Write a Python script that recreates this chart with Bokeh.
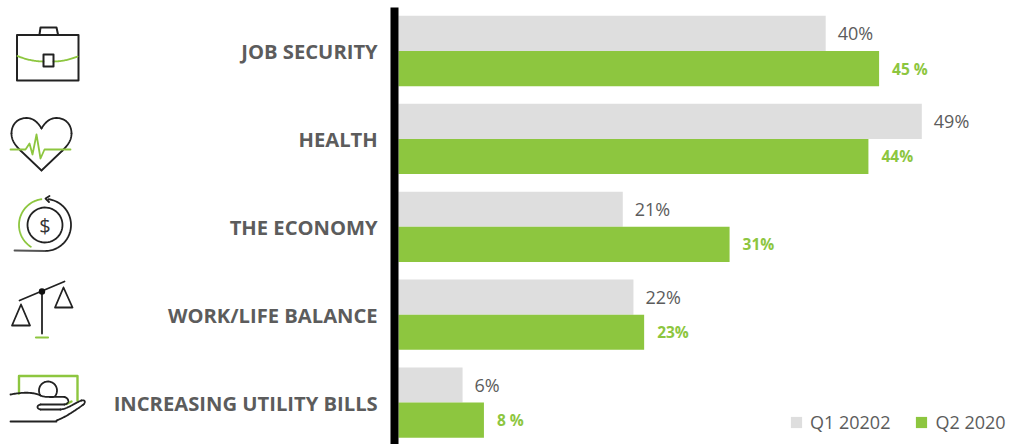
import numpy as np
from bokeh.embed import file_html
from bokeh.resources import INLINE
from bokeh.plotting import figure
from bokeh.models import Range1d, Legend, LegendItem
from bokeh.core.properties import value

categories = ["JOB SECURITY", "HEALTH", "THE ECONOMY", "WORK/LIFE BALANCE", "INCREASING UTILITY BILLS"]
q1_values = [40, 49, 21, 22, 6]
q2_values = [45, 44, 31, 23, 8]
q1_labels = ["40%", "49%", "21%", "22%", "6%"]
q2_labels = ["45 %", "44%", "31%", "23%", "8 %"]
series_names = ["Q1 20202", "Q2 2020"]

GREY = "#DEDEDE"
GREEN = "#8DC63F"
TEXT = "#5C5C5C"
FONT = "Open Sans"

W, H = 1010, 444
PX_PER_PCT = 10.68
ZERO_PX = 398
ROW_PX = 87.9
FIRST_ROW_PX = 50.5

p = figure(width=W, height=H, output_backend="svg", toolbar_location=None,
           x_range=Range1d(-ZERO_PX / PX_PER_PCT, (W - ZERO_PX) / PX_PER_PCT),
           y_range=Range1d((H - FIRST_ROW_PX) / ROW_PX, -FIRST_ROW_PX / ROW_PX),
           min_border=0, outline_line_color=None, background_fill_color="white")
p.xaxis.visible = False
p.yaxis.visible = False
p.grid.visible = False

# Pixel-based ranges for the pictograms and the row captions.
p.extra_x_ranges["px"] = Range1d(0, W)
p.extra_y_ranges["px"] = Range1d(H, 0)
PX = dict(x_range_name="px", y_range_name="px")

rows = np.arange(len(categories))
BAR = 0.4
q1_bars = p.hbar(y=rows - BAR / 2, left=0, right=q1_values, height=BAR, fill_color=GREY, line_color=None)
q2_bars = p.hbar(y=rows + BAR / 2, left=0, right=q2_values, height=BAR, fill_color=GREEN, line_color=None)

p.text(x=q1_values, y=rows - BAR / 2, text=q1_labels, x_offset=12, text_baseline="middle",
       text_font=value(FONT), text_font_size="18px", text_color=TEXT)
p.text(x=q2_values, y=rows + BAR / 2, text=q2_labels, x_offset=13, text_baseline="middle",
       text_font=value(FONT), text_font_size="15.5px", text_font_style="bold", text_color=GREEN)

p.text(x=[-1.95] * len(categories), y=rows, text=categories, text_align="right", text_baseline="middle",
       text_font=value(FONT), text_font_size="20.2px", text_font_style="bold", text_color=TEXT)

# Heavy vertical baseline to the left of the bars.
p.segment(x0=[394], y0=[7], x1=[394], y1=[444], line_color="black", line_width=8, **PX)


def path(xs, ys, color="#222222", width=1.8):
    p.line(xs, ys, line_color=color, line_width=width, line_join="round", line_cap="round", **PX)


def arc(cx, cy, r, a0, a1, color="#222222", width=1.8):
    t = np.radians(np.linspace(a0, a1, 60))
    path(cx + r * np.cos(t), cy + r * np.sin(t), color, width)


def curve(p0, c0, c1, p1):
    t = np.linspace(0, 1, 30)[:, None]
    pts = ((1 - t) ** 3 * np.array(p0) + 3 * (1 - t) ** 2 * t * np.array(c0)
           + 3 * (1 - t) * t ** 2 * np.array(c1) + t ** 3 * np.array(p1))
    return pts[:, 0], pts[:, 1]


# Briefcase
path([16.5, 78, 78, 16.5, 16.5], [34.5, 34.5, 80, 80, 34.5], width=2)
path([39, 40, 56, 57.5], [34, 27, 27, 34], width=2)
gx, gy = curve((17, 55.5), (25, 59), (35, 61), (43, 61))
path(gx, gy, GREEN)
gx, gy = curve((53, 61), (61, 61), (70, 59), (77, 56))
path(gx, gy, GREEN)
path([43, 53, 53, 43, 43], [54, 54, 66, 66, 54], width=2)

# Heart with a pulse trace
for mirror in (False, True):
    segs = [curve((41, 128), (37, 121), (32, 117.5), (26, 117.5)),
            curve((26, 117.5), (17, 117.5), (11, 124), (11, 133)),
            curve((11, 133), (11, 140), (15, 145), (20, 150))]
    for sx, sy in segs:
        path(82 - sx if mirror else sx, sy)
    path([82 - 20, 41] if mirror else [20, 41], [150, 170])
path([10, 25, 29, 32, 36, 40, 44, 70], [149, 149, 143, 154, 134, 158, 149, 149], GREEN)

# Coin with a circular arrow
arc(44.5, 224.5, 17.5, 0, 360)
arc(44.5, 224.5, 26, 123, 262, GREEN)
arc(44.5, 224.5, 26, -82, 90)
path([14, 44.5], [250, 250.5], "#555555")
path([49, 45, 48.5], [195.5, 198, 201.5])
p.text(x=[44.5], y=[225], text=["$"], text_align="center", text_baseline="middle",
       text_font=value(FONT), text_font_size="20px", text_color="#333333", **PX)

# Balance scale
path([19, 64], [300, 281])
path([41.5, 41.5], [291, 333])
p.circle(x=[41.5], y=[291], radius=3.2, fill_color="#111111", line_color=None, **PX)
path([35.5, 47.5], [337, 337], GREEN, 2.2)
path([20.5, 29.5, 11.5, 20.5], [304, 325, 325, 304])
path([63, 72, 54.5, 63], [287, 307, 307, 287])

# Hand holding a coin over a banknote
path([18.5, 18.5, 77, 77], [393, 375.5, 375.5, 400], GREEN, 2.4)
path([66, 71], [403.5, 401], GREEN, 2.4)
arc(47.5, 390, 9, 150, 400)
hx, hy = curve((10, 394), (20, 392), (32, 391), (40, 395))
path(hx, hy)
hx, hy = curve((40, 395), (45, 397.5), (55, 396), (64, 396.5))
path(hx, hy)
hx, hy = curve((64, 396.5), (69, 398), (69, 403), (64, 404))
path(hx, hy)
path([64, 40], [404, 404])
hx, hy = curve((40, 404), (36, 405), (36, 408), (40, 409))
path(hx, hy)
path([40, 60], [409, 409])
hx, hy = curve((60, 409), (68, 408), (75, 402), (81, 400))
path(hx, hy)
hx, hy = curve((81, 400), (85, 399), (85, 402), (83, 404))
path(hx, hy)
hx, hy = curve((83, 404), (72, 412), (64, 417), (56, 420))
path(hx, hy)
path([56, 10], [421, 421])

legend = Legend(items=[LegendItem(label=series_names[0], renderers=[q1_bars]),
                       LegendItem(label=series_names[1], renderers=[q2_bars])],
                orientation="horizontal", location=(789, 10), background_fill_alpha=0,
                border_line_color=None, glyph_width=14, glyph_height=14, spacing=24,
                label_text_font=FONT, label_text_font_size="18px", label_text_color=TEXT,
                label_standoff=7, padding=8, margin=0)
p.add_layout(legend, "center")

open("out.html", "w").write(file_html(p, INLINE))
